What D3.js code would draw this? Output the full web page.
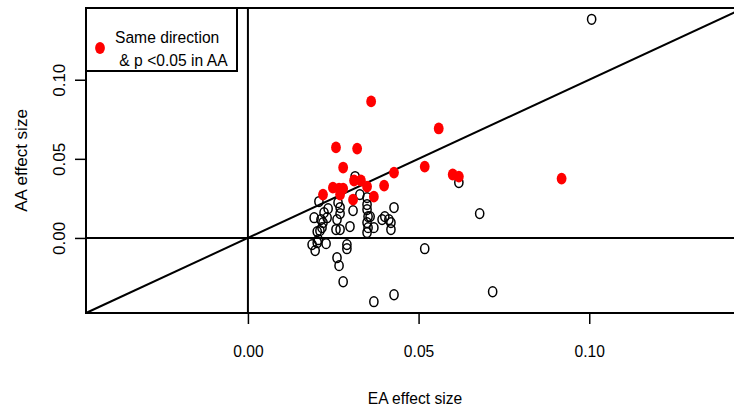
<!DOCTYPE html>
<html>
<head>
<meta charset="utf-8">
<script src="https://cdnjs.cloudflare.com/ajax/libs/d3/7.8.5/d3.min.js"></script>
<style>
    body { margin: 0; background: #fff; }
    text { font-family: Arial, "Liberation Sans", sans-serif; fill: #000; }
</style>
</head>
<body>
<svg id="chart" width="734" height="410"></svg>
<script>
// open circles (not significant in AA)
const eaOpen = [0.1007, 0.0314, 0.0618, 0.0328, 0.0349, 0.0208, 0.0264, 0.0428, 0.0235, 0.0270,
    0.0308, 0.0349, 0.0349, 0.0679, 0.0223, 0.0270, 0.0352, 0.0194, 0.0232, 0.0261,
    0.0358, 0.0401, 0.0393, 0.0413, 0.0419, 0.0214, 0.0220, 0.0349, 0.0299, 0.0369,
    0.0217, 0.0211, 0.0258, 0.0270, 0.0352, 0.0419, 0.0349, 0.0203, 0.0206, 0.0188,
    0.0203, 0.0229, 0.0197, 0.0290, 0.0290, 0.0518, 0.0261, 0.0267, 0.0279, 0.0428,
    0.0369, 0.0717];
const aaOpen = [0.1382, 0.0388, 0.0350, 0.0274, 0.0255, 0.0230, 0.0223, 0.0192, 0.0185, 0.0192,
    0.0173, 0.0211, 0.0179, 0.0154, 0.0160, 0.0154, 0.0135, 0.0128, 0.0128, 0.0116,
    0.0135, 0.0135, 0.0116, 0.0116, 0.0097, 0.0116, 0.0097, 0.0097, 0.0072, 0.0065,
    0.0065, 0.0046, 0.0053, 0.0053, 0.0065, 0.0053, 0.0034, 0.0040, -0.0011, -0.0042,
    -0.0030, -0.0036, -0.0080, -0.0042, -0.0068, -0.0068, -0.0125, -0.0175, -0.0277, -0.0359,
    -0.0403, -0.0340];

// red: same direction & p < 0.05 in AA
const eaSig = [0.0361, 0.0559, 0.0258, 0.0320, 0.0279, 0.0518, 0.0428, 0.0600, 0.0618, 0.0919,
    0.0311, 0.0331, 0.0399, 0.0349, 0.0249, 0.0267, 0.0279, 0.0220, 0.0270, 0.0369, 0.0308];
const aaSig = [0.0863, 0.0692, 0.0572, 0.0565, 0.0445, 0.0451, 0.0413, 0.0401, 0.0388, 0.0375,
    0.0363, 0.0363, 0.0331, 0.0325, 0.0318, 0.0312, 0.0312, 0.0274, 0.0274, 0.0261, 0.0242];

const tickValues = [0, 0.05, 0.10];
const tickLabels = ["0.00", "0.05", "0.10"];
const legendLines = ["Same direction", " & p <0.05 in AA"];

const svg = d3.select("#chart");
const pLeft = 86, pRight = 744, pTop = 8, pBottom = 313;

// like R: common range of everything, padded by 4%
let all = eaOpen.concat(aaOpen, eaSig, aaSig);
let ext = d3.extent(all);
let pad = (ext[1] - ext[0]) * 0.04;
let dom = [ext[0] - pad, ext[1] + pad];

let x = d3.scaleLinear().domain(dom).range([pLeft, pRight]);
let y = d3.scaleLinear().domain(dom).range([pBottom, pTop]);

const squeeze = "scale(0.92,1)";

// reference lines: h=0, v=0, y=x
let lines = svg.append("g").attr("stroke", "#000").attr("stroke-width", 2);
lines.append("line")
    .attr("x1", pLeft).attr("x2", pRight)
    .attr("y1", y(0)).attr("y2", y(0));
lines.append("line")
    .attr("x1", x(0)).attr("x2", x(0))
    .attr("y1", pTop).attr("y2", pBottom);
lines.append("line")
    .attr("x1", x(dom[0])).attr("y1", y(dom[0]))
    .attr("x2", x(dom[1])).attr("y2", y(dom[1]));

// points
svg.append("g").selectAll("ellipse")
    .data(eaOpen.map((d, i) => [d, aaOpen[i]]))
    .enter().append("ellipse")
    .attr("cx", d => x(d[0]))
    .attr("cy", d => y(d[1]))
    .attr("rx", 4.1).attr("ry", 4.9)
    .attr("fill", "none")
    .attr("stroke", "#000")
    .attr("stroke-width", 1.5);

svg.append("g").selectAll("ellipse")
    .data(eaSig.map((d, i) => [d, aaSig[i]]))
    .enter().append("ellipse")
    .attr("cx", d => x(d[0]))
    .attr("cy", d => y(d[1]))
    .attr("rx", 4.9).attr("ry", 5.9)
    .attr("fill", "#ff0000");

// box
svg.append("rect")
    .attr("x", pLeft).attr("y", pTop)
    .attr("width", pRight - pLeft).attr("height", pBottom - pTop)
    .attr("fill", "none").attr("stroke", "#000").attr("stroke-width", 2);

// x axis
let xAxis = svg.append("g")
    .attr("transform", "translate(0," + pBottom + ")")
    .call(d3.axisBottom(x).tickValues(tickValues).tickSize(11)
        .tickFormat((d, i) => tickLabels[i]));
xAxis.select(".domain").remove();
xAxis.selectAll("line").attr("stroke-width", 1.5);
xAxis.selectAll("text")
    .attr("y", 44).attr("dy", 0)
    .attr("transform", squeeze)
    .style("font-size", "17px").style("font-family", "Arial, 'Liberation Sans', sans-serif");

// y axis, labels turned like R's default las=0
let yAxis = svg.append("g")
    .attr("transform", "translate(" + pLeft + ",0)")
    .call(d3.axisLeft(y).tickValues(tickValues).tickSize(11)
        .tickFormat((d, i) => tickLabels[i]));
yAxis.select(".domain").remove();
yAxis.selectAll("line").attr("stroke-width", 1.5);
yAxis.selectAll("text")
    .attr("transform", "rotate(-90)")
    .attr("x", 0).attr("y", -21).attr("dy", 0)
    .style("text-anchor", "middle")
    .style("font-size", "17px").style("font-family", "Arial, 'Liberation Sans', sans-serif");

// axis titles
svg.append("text")
    .attr("transform", "translate(" + ((pLeft + pRight) / 2) + ",404) " + squeeze)
    .attr("text-anchor", "middle")
    .style("font-size", "17px")
    .text("EA effect size");

svg.append("text")
    .attr("transform", "translate(27," + ((pTop + pBottom) / 2) + ") rotate(-90)")
    .attr("text-anchor", "middle")
    .style("font-size", "17px")
    .text("AA effect size");

// legend
let legend = svg.append("g");
legend.append("rect")
    .attr("x", pLeft).attr("y", pTop)
    .attr("width", 151).attr("height", 63)
    .attr("fill", "#fff").attr("stroke", "#000").attr("stroke-width", 2);
legend.append("ellipse")
    .attr("cx", 100).attr("cy", 48)
    .attr("rx", 4.9).attr("ry", 5.9)
    .attr("fill", "#ff0000");
legend.selectAll(".lg")
    .data(legendLines)
    .enter().append("text")
    .attr("class", "lg")
    .attr("transform", (d, i) => "translate(115," + (43 + i * 23) + ") " + squeeze)
    .attr("xml:space", "preserve")
    .style("white-space", "pre")
    .style("font-size", "17px")
    .text(d => d);
</script>
</body>
</html>
